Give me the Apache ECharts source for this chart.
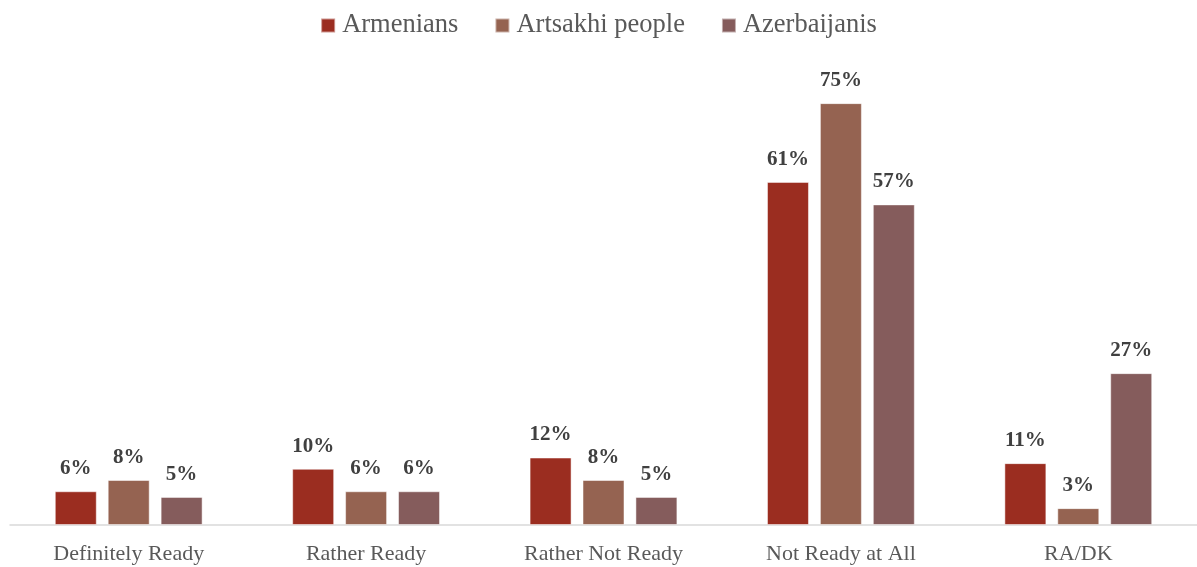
<!DOCTYPE html>
<html>
<head>
<meta charset="utf-8">
<script src="https://cdn.jsdelivr.net/npm/echarts@6/dist/echarts.min.js"></script>
<style>
  html, body { margin: 0; padding: 0; background: #fff; }
  #chart { width: 1197px; height: 567px; }
</style>
</head>
<body>
<div id="chart"></div>
<script>
// Readiness responses, percent of each group
const categories = ['Definitely Ready', 'Rather Ready', 'Rather Not Ready', 'Not Ready at All', 'RA/DK'];
const seriesNames = ['Armenians', 'Artsakhi people', 'Azerbaijanis'];
const armenians = [6, 10, 12, 61, 11];
const artsakhi = [8, 6, 8, 75, 3];
const azerbaijanis = [5, 6, 5, 57, 27];
const colors = ['#9B2D20', '#956351', '#855C5C'];

const serif = '"Liberation Serif", "DejaVu Serif", serif';
const values = [armenians, artsakhi, azerbaijanis];

const chart = echarts.init(document.getElementById('chart'), null, { renderer: 'canvas' });
chart.setOption({
  animation: false,
  color: colors,
  legend: {
    top: 7,
    left: 'center',
    itemWidth: 14,
    itemHeight: 14,
    itemGap: 36,
    icon: 'rect',
    textStyle: { fontFamily: serif, fontSize: 26.5, color: '#595959', padding: [0, 0, 0, 2] },
    data: seriesNames
  },
  grid: { left: 10, right: -3, top: 75, bottom: 42, containLabel: false },
  xAxis: {
    type: 'category',
    data: categories,
    axisLine: { lineStyle: { color: '#d9d9d9', width: 1.5 } },
    axisTick: { show: false },
    axisLabel: { fontFamily: serif, fontSize: 22, color: '#595959', margin: 18 }
  },
  yAxis: {
    type: 'value',
    min: 0,
    max: 80,
    show: false,
    splitLine: { show: false }
  },
  series: seriesNames.map((name, i) => ({
    name,
    type: 'bar',
    data: values[i],
    barWidth: 42,
    barGap: '26%',
    itemStyle: { color: colors[i], borderColor: 'rgba(255,255,255,0.5)', borderWidth: 1 },
    label: {
      show: true,
      position: 'top',
      distance: 12,
      formatter: '{c}%',
      fontFamily: serif,
      fontSize: 21,
      fontWeight: 'bold',
      color: '#404040'
    }
  }))
});
</script>
</body>
</html>
